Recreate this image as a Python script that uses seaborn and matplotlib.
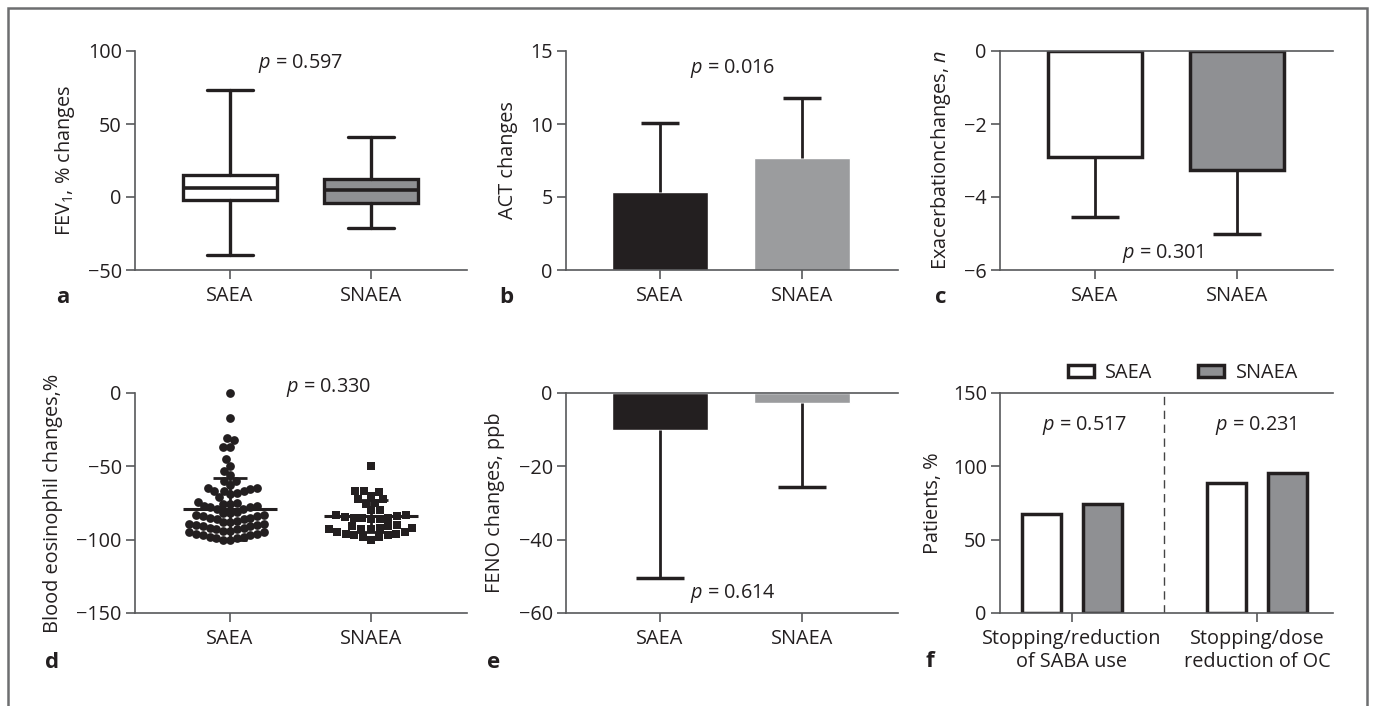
import numpy as np
import pandas as pd
import matplotlib
matplotlib.use('Agg')
import matplotlib.pyplot as plt
import seaborn as sns
from matplotlib.patches import Rectangle, Patch

groups = ['SAEA', 'SNAEA']

# a: FEV1 % changes, box summaries
fev_min = [-40, -21]
fev_q1 = [-2, -4]
fev_med = [6, 5]
fev_q3 = [15, 12]
fev_max = [73, 41]

# b: ACT changes (mean, SD)
act_mean = [5.35, 7.65]
act_sd = [4.7, 4.1]

# c: exacerbation changes (mean, SD)
exa_mean = [-2.9, -3.25]
exa_sd = [1.65, 1.75]

# d: blood eosinophil changes, individual patients
eos_saea = [0, -17, -31, -32, -37, -37, -45, -50, -53, -56, -60, -60, -63,
            -65, -65, -65.5, -66.5, -67, -67, -68, -69, -71,
            -74, -75, -76, -76, -77, -77, -78, -78, -79, -79,
            -81, -82, -82, -83, -83, -84, -84, -85, -85, -86, -86, -87,
            -88, -88, -89, -89, -90, -90, -91, -91, -92, -92,
            -93, -93, -94, -94, -95, -95, -96, -96, -97, -97, -98,
            -98, -99, -99, -100, -100]
eos_snaea = [-50, -67, -67, -67.5, -70, -72.5, -72.5, -75, -75.5, -80, -80,
             -83, -83.5, -84, -84.5, -85, -85, -85.5, -86, -86,
             -90, -91, -91, -92, -92, -92.5, -93, -93,
             -95, -95, -96, -96, -97, -97, -98, -98, -100]
eos_mean = [-79, -84]
eos_sd = [21, 11]

# e: FENO changes (mean, SD)
feno_mean = [-10.2, -2.7]
feno_sd = [40.2, 23.0]

# f: patients %
f_cats = ['Stopping/reduction\nof SABA use', 'Stopping/dose\nreduction of OC']
f_saea = [67.3, 88.6]
f_snaea = [74.1, 95.5]

p_text = ['0.597', '0.016', '0.301', '0.330', '0.614', '0.517', '0.231']

dark = '#231f20'
grey_dark = '#8f9093'
grey_light = '#9b9c9e'
axis_col = '#58595b'

sns.set_theme(style='white')
plt.rcParams['font.family'] = ['Open Sans', 'DejaVu Sans']
plt.rcParams['mathtext.fontset'] = 'custom'
plt.rcParams['mathtext.rm'] = 'Open Sans'
plt.rcParams['mathtext.it'] = 'Open Sans:italic'
plt.rcParams['text.color'] = dark
plt.rcParams['axes.labelcolor'] = dark

FS = 14.3
W, H = 1375, 706
fig = plt.figure(figsize=(W / 100, H / 100), dpi=100)


def make_ax(x0, x1, y0, y1):
    return fig.add_axes([x0 / W, 1 - y1 / H, (x1 - x0) / W, (y1 - y0) / H])


def style(ax, top=False):
    sns.despine(ax=ax, top=not top, right=True)
    for s in ['left', 'bottom', 'top']:
        ax.spines[s].set_color(axis_col)
        ax.spines[s].set_linewidth(1.2)
    ax.tick_params(axis='both', direction='out', length=6.5, width=1.2,
                   color=axis_col, labelsize=FS, labelcolor=dark, pad=3,
                   left=True, bottom=True)
    ax.tick_params(axis='x', pad=5)
    ax.set_facecolor('none')


def one_sided(ax, y, err, up, capsize):
    # error bar drawn on one side only, no cap on the bar end
    if up:
        yerr = [[0] * len(err), err]
    else:
        yerr = [err, [0] * len(err)]
    cont = ax.errorbar(range(len(y)), y, yerr=yerr, fmt='none', ecolor=dark,
                       elinewidth=2, capsize=capsize, capthick=2.5)
    caps = cont.lines[1]
    caps[0 if up else 1].set_visible(False)


axA = make_ax(135, 467, 51, 270)
axB = make_ax(566, 898, 51, 270)
axC = make_ax(1000, 1333, 51, 270)
axD = make_ax(135, 467, 393, 613)
axE = make_ax(566, 898, 393, 613)
axF = make_ax(1000, 1333, 393, 613)

# ---- a: box plot
stats = [dict(whislo=fev_min[i], q1=fev_q1[i], med=fev_med[i], q3=fev_q3[i],
              whishi=fev_max[i], fliers=[]) for i in range(2)]
bp = axA.bxp(stats, positions=[0, 1], widths=0.66, capwidths=0.32,
             patch_artist=True, showfliers=False,
             boxprops=dict(edgecolor=dark, linewidth=2.4),
             whiskerprops=dict(color=dark, linewidth=2.4),
             capprops=dict(color=dark, linewidth=2.4),
             medianprops=dict(color=dark, linewidth=2.6))
for patch, fc in zip(bp['boxes'], ['white', grey_dark]):
    patch.set_facecolor(fc)
axA.set_xticks([0, 1], groups)
axA.set_xlim(-0.674, 1.681)
axA.set_ylim(-50, 100)
axA.set_yticks([-50, 0, 50, 100])
axA.set_ylabel('FEV$_1$, % changes', fontsize=FS)
axA.yaxis.set_label_coords(-0.175, 0.5)
axA.text(0.5, 88.4, '$p$ = ' + p_text[0], ha='center', va='baseline', fontsize=FS)
style(axA)

# ---- b: ACT
sns.barplot(x=groups, y=act_mean, hue=groups, palette=[dark, grey_light],
            width=0.68, legend=False, ax=axB, saturation=1)
one_sided(axB, act_mean, act_sd, True, 14)
axB.set_xlim(-0.662, 1.676)
axB.set_ylim(0, 15)
axB.set_yticks([0, 5, 10, 15])
axB.set_ylabel('ACT changes', fontsize=FS)
axB.yaxis.set_label_coords(-0.145, 0.5)
axB.text(0.51, 13.5, '$p$ = ' + p_text[1], ha='center', va='baseline', fontsize=FS)
style(axB)

# ---- c: exacerbations
sns.barplot(x=groups, y=exa_mean, hue=groups, palette=['white', grey_dark],
            width=0.66, legend=False, ax=axC, saturation=1,
            edgecolor=dark, linewidth=2.5)
one_sided(axC, exa_mean, exa_sd, False, 17)
axC.set_xlim(-0.669, 1.676)
axC.set_ylim(-6, 0)
axC.set_yticks([-6, -4, -2, 0])
axC.set_ylabel('Exacerbationchanges, $n$', fontsize=FS)
axC.yaxis.set_label_coords(-0.141, 0.5)
axC.text(0.48, -5.67, '$p$ = ' + p_text[2], ha='center', va='baseline', fontsize=FS)
style(axC, top=True)
axC.tick_params(top=False)

# ---- d: eosinophils
eos_df = pd.DataFrame({'group': ['SAEA'] * len(eos_saea) + ['SNAEA'] * len(eos_snaea),
                       'value': eos_saea + eos_snaea})
sns.swarmplot(data=eos_df[eos_df.group == 'SAEA'], x='group', y='value', order=groups,
              color=dark, size=6.3, marker='o', linewidth=0, ax=axD)
sns.swarmplot(data=eos_df[eos_df.group == 'SNAEA'], x='group', y='value', order=groups,
              color=dark, size=6, marker='s', linewidth=0, ax=axD)
axD.errorbar([0, 1], eos_mean, xerr=0.335, fmt='none', ecolor=dark,
             elinewidth=2.2, capsize=0, zorder=5)
axD.errorbar([0, 1], eos_mean, yerr=eos_sd, fmt='none', ecolor=dark,
             elinewidth=2, capsize=12, capthick=2, zorder=5)
axD.set_xlim(-0.674, 1.681)
axD.set_ylim(-150, 0)
axD.set_yticks([-150, -100, -50, 0])
axD.set_xlabel('')
axD.set_ylabel('Blood eosinophil changes,%', fontsize=FS)
axD.yaxis.set_label_coords(-0.217, 0.5)
axD.text(0.7, 0.7, '$p$ = ' + p_text[3], ha='center', va='baseline', fontsize=FS)
style(axD)
for c in axD.collections:
    c.set_clip_on(False)

# ---- e: FENO
sns.barplot(x=groups, y=feno_mean, hue=groups, palette=[dark, grey_light],
            width=0.67, legend=False, ax=axE, saturation=1)
one_sided(axE, feno_mean, feno_sd, False, 17)
axE.set_xlim(-0.662, 1.676)
axE.set_ylim(-60, 0)
axE.set_yticks([-60, -40, -20, 0])
axE.set_ylabel('FENO changes, ppb', fontsize=FS)
axE.yaxis.set_label_coords(-0.184, 0.5)
axE.text(0.51, -55.9, '$p$ = ' + p_text[4], ha='center', va='baseline', fontsize=FS)
style(axE, top=True)
axE.tick_params(top=False)

# ---- f: patients
f_df = pd.DataFrame({'cat': f_cats * 2,
                     'group': ['SAEA'] * 2 + ['SNAEA'] * 2,
                     'value': f_saea + f_snaea})
sns.barplot(data=f_df, x='cat', y='value', hue='group', order=f_cats,
            palette={'SAEA': 'white', 'SNAEA': grey_dark}, width=0.66, gap=0.35,
            saturation=1, edgecolor=dark, linewidth=2.5, ax=axF)
axF.axvline(0.5, color='#444444', linestyle=(0, (6, 4)), linewidth=1)
axF.set_xlim(-0.389, 1.411)
axF.set_ylim(0, 150)
axF.set_yticks([0, 50, 100, 150])
axF.set_xlabel('')
axF.set_ylabel('Patients, %', fontsize=FS)
axF.yaxis.set_label_coords(-0.171, 0.5)
axF.text(0.07, 124.8, '$p$ = ' + p_text[5], ha='center', va='baseline', fontsize=FS)
axF.text(0.995, 124.8, '$p$ = ' + p_text[6], ha='center', va='baseline', fontsize=FS)
axF.legend(handles=[Patch(facecolor='white', edgecolor=dark, linewidth=2.5, label='SAEA'),
                    Patch(facecolor=grey_dark, edgecolor=dark, linewidth=2.5, label='SNAEA')],
           loc='center', bbox_to_anchor=(0.55, 1.09), ncol=2, frameon=False,
           fontsize=FS, handlelength=1.3, handleheight=0.55, columnspacing=2.3,
           handletextpad=0.6)
style(axF, top=True)
axF.tick_params(top=False)

for ax in [axA, axB, axC, axD, axE]:
    ax.set_xlabel('')

# panel letters
for letter, (px, py) in zip('abcdef', [(63, 303), (506, 303), (941, 303),
                                       (52, 668), (494, 668), (930, 667)]):
    fig.text(px / W, 1 - py / H, letter, ha='center', va='baseline',
             fontsize=16, fontweight='bold', color=dark)

# outer frame
fig.add_artist(Rectangle((8 / W, -0.05), (1367 - 8) / W, 1.05 - 8 / H,
                         transform=fig.transFigure, fill=False,
                         edgecolor='#6d6e70', linewidth=1.8))

# let seaborn lay out the swarm once, then pull the circle swarm in a bit
# so the dots overlap like in the original dot plot
fig.canvas.draw()
circles = axD.collections[0]
if 'draw' in vars(circles):
    del circles.draw
off = np.array(circles.get_offsets())
off[:, 0] = off[:, 0] * 0.75
circles.set_offsets(off)

fig.savefig('out.png', dpi=100)
